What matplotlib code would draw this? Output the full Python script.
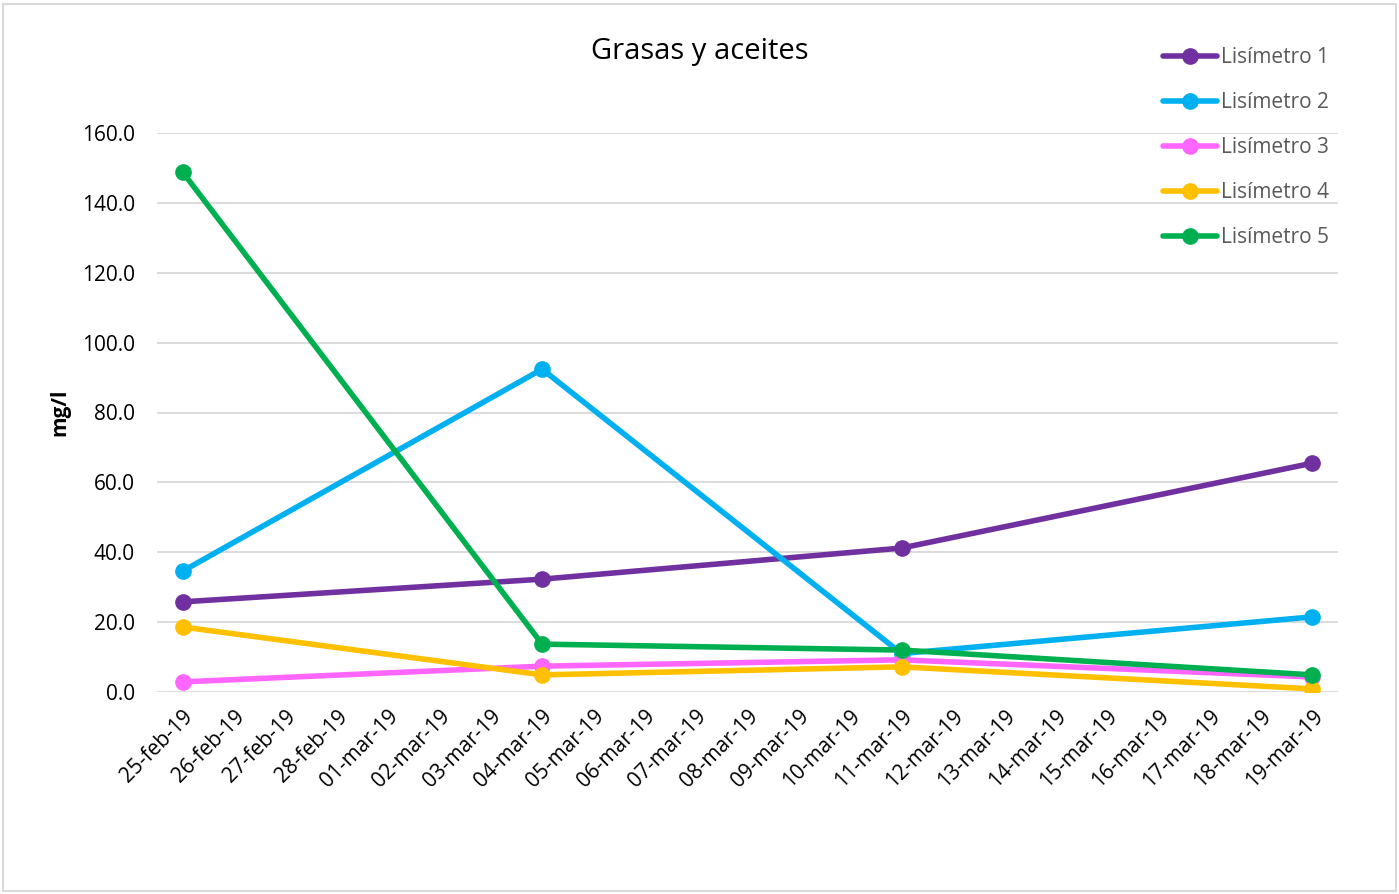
import matplotlib
matplotlib.use("Agg")
import matplotlib.pyplot as plt
from matplotlib.patches import Rectangle
import numpy as np

plt.rcParams['font.family'] = ['Open Sans', 'DejaVu Sans']

# ---- data ----
tick_labels = ["25-feb-19", "26-feb-19", "27-feb-19", "28-feb-19", "01-mar-19",
               "02-mar-19", "03-mar-19", "04-mar-19", "05-mar-19", "06-mar-19",
               "07-mar-19", "08-mar-19", "09-mar-19", "10-mar-19", "11-mar-19",
               "12-mar-19", "13-mar-19", "14-mar-19", "15-mar-19", "16-mar-19",
               "17-mar-19", "18-mar-19", "19-mar-19"]
sample_dates = ["25-feb-19", "04-mar-19", "11-mar-19", "19-mar-19"]
series_names = ["Lisímetro 1", "Lisímetro 2", "Lisímetro 3", "Lisímetro 4", "Lisímetro 5"]
lis1 = [25.8, 32.3, 41.2, 65.5]
lis2 = [34.6, 92.4, 11.0, 21.5]
lis3 = [2.9, 7.4, 9.2, 4.3]
lis4 = [18.6, 4.9, 7.2, 0.9]
lis5 = [148.8, 13.7, 12.0, 4.9]
colors = ["#7030A0", "#00B0F0", "#FF66FF", "#FFC000", "#00B050"]
yticks = [0, 20, 40, 60, 80, 100, 120, 140, 160]

x_pos = [tick_labels.index(d) for d in sample_dates]

fig = plt.figure(figsize=(13.99, 8.94), dpi=100)
ax = fig.add_axes([157/1399, 1-692/894, (1338-157)/1399, (692-133)/894])

lines = []
for name, vals, c in zip(series_names, [lis1, lis2, lis3, lis4, lis5], colors):
    ln, = ax.plot(x_pos, vals, color=c, lw=4.0, marker='o', markersize=11,
                  solid_capstyle='round', label=name, zorder=3)
    lines.append(ln)

ax.set_xlim(-0.5, len(tick_labels) - 0.5)
ax.set_ylim(0, 160)
ax.set_yticks(yticks)
ax.set_yticklabels([f"{v:.1f}" for v in yticks], fontsize=15, color='#000000')
ax.set_xticks(range(len(tick_labels)))
ax.set_xticklabels(tick_labels, rotation=45, ha='right', rotation_mode='anchor', fontsize=15)
ax.tick_params(axis='y', length=0, pad=16)
ax.tick_params(axis='x', length=0, pad=10)
ax.grid(axis='y', color='#D9D9D9', lw=1.3, zorder=0)
for s in ax.spines.values():
    s.set_visible(False)

ax.set_ylabel("mg/l", fontsize=15, fontweight='bold', labelpad=8)

fig.text(700/1399, 1-51/894, "Grasas y aceites", fontsize=21, ha='center', va='center')

leg = fig.legend(handles=lines, loc='upper left', bbox_to_anchor=(1163/1399, 1-47/894),
                 frameon=False, fontsize=15, labelspacing=1.15, handlelength=2.6,
                 handletextpad=0.2, borderaxespad=0, borderpad=0)
for t in leg.get_texts():
    t.set_color('#595959')

fig.patches.append(Rectangle((3/1399, 3/894), 1393/1399, 887/894, transform=fig.transFigure,
                             fill=False, edgecolor='#D9D9D9', lw=1.5))

fig.savefig("out.png", dpi=100, facecolor='white')
